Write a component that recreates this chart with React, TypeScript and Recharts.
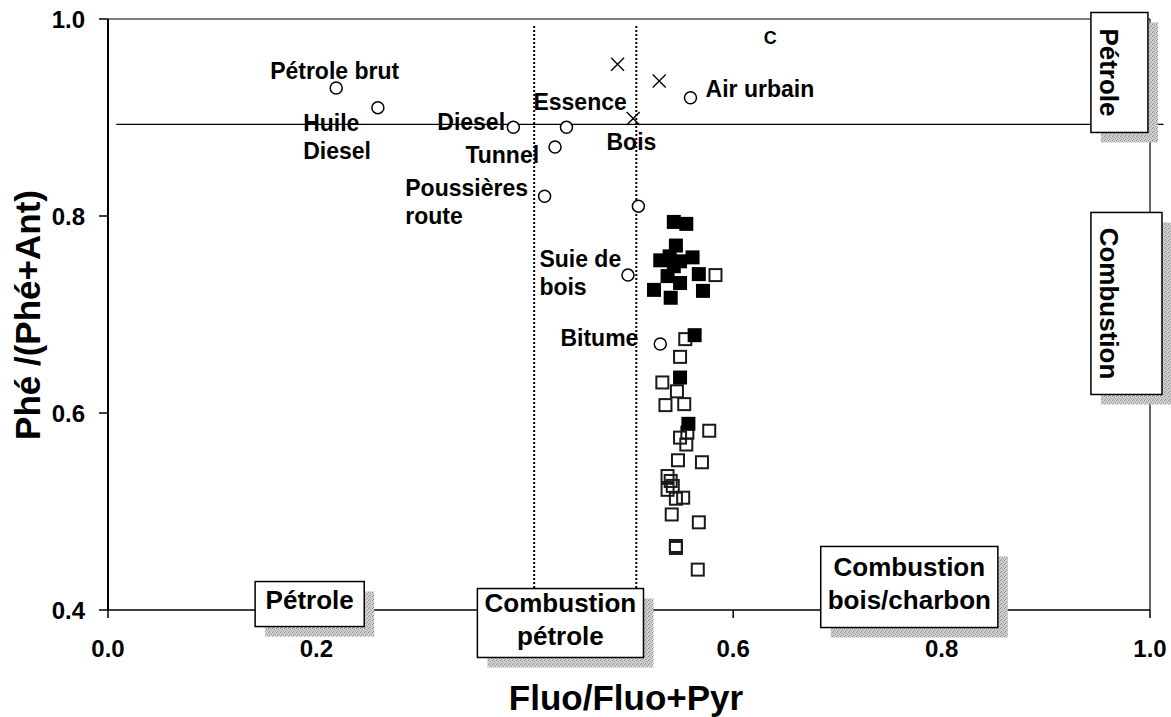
import React from "react";
import {
  ScatterChart,
  Scatter,
  XAxis,
  YAxis,
  ReferenceLine,
  ReferenceArea,
} from "recharts";

const FONT = "'Liberation Sans', Arial, Helvetica, sans-serif";

// axis ticks
const xTicks = [0, 0.2, 0.4, 0.6, 0.8, 1.0];
const yTicks = [0.4, 0.6, 0.8, 1.0];

// literature source profiles (open circles)
const sourceCircles = [
  { x: 0.219, y: 0.93 }, // Pétrole brut
  { x: 0.259, y: 0.91 }, // Huile Diesel
  { x: 0.389, y: 0.89 }, // Diesel
  { x: 0.44, y: 0.89 }, // Essence
  { x: 0.429, y: 0.87 }, // Tunnel
  { x: 0.419, y: 0.82 }, // Poussières route
  { x: 0.509, y: 0.81 },
  { x: 0.559, y: 0.92 }, // Air urbain
  { x: 0.499, y: 0.74 }, // Suie de bois
  { x: 0.53, y: 0.67 }, // Bitume
];

// wood combustion profiles (crosses)
const woodCrosses = [
  { x: 0.489, y: 0.954 },
  { x: 0.529, y: 0.937 },
  { x: 0.504, y: 0.899 },
];

// samples, filled squares
const filledSamples = [
  { x: 0.543, y: 0.794 },
  { x: 0.555, y: 0.792 },
  { x: 0.545, y: 0.77 },
  { x: 0.53, y: 0.755 },
  { x: 0.539, y: 0.759 },
  { x: 0.561, y: 0.758 },
  { x: 0.549, y: 0.754 },
  { x: 0.543, y: 0.749 },
  { x: 0.537, y: 0.739 },
  { x: 0.549, y: 0.732 },
  { x: 0.567, y: 0.741 },
  { x: 0.524, y: 0.725 },
  { x: 0.54, y: 0.717 },
  { x: 0.571, y: 0.724 },
  { x: 0.563, y: 0.679 },
  { x: 0.549, y: 0.636 },
  { x: 0.557, y: 0.589 },
];

// samples, open squares
const openSamples = [
  { x: 0.583, y: 0.74 },
  { x: 0.554, y: 0.675 },
  { x: 0.549, y: 0.657 },
  { x: 0.532, y: 0.631 },
  { x: 0.546, y: 0.622 },
  { x: 0.535, y: 0.608 },
  { x: 0.553, y: 0.609 },
  { x: 0.577, y: 0.582 },
  { x: 0.556, y: 0.58 },
  { x: 0.549, y: 0.575 },
  { x: 0.555, y: 0.568 },
  { x: 0.547, y: 0.552 },
  { x: 0.57, y: 0.55 },
  { x: 0.537, y: 0.536 },
  { x: 0.54, y: 0.531 },
  { x: 0.542, y: 0.526 },
  { x: 0.537, y: 0.522 },
  { x: 0.545, y: 0.513 },
  { x: 0.552, y: 0.514 },
  { x: 0.541, y: 0.497 },
  { x: 0.567, y: 0.489 },
  { x: 0.545, y: 0.465 },
  { x: 0.545, y: 0.463 },
  { x: 0.566, y: 0.441 },
];

// source names, anchored at the start of the text baseline
const sourceLabels = [
  { x: 0.1556, y: 0.9386, text: "Pétrole brut" },
  { x: 0.1873, y: 0.8858, text: "Huile" },
  { x: 0.1873, y: 0.8574, text: "Diesel" },
  { x: 0.316, y: 0.8878, text: "Diesel" },
  { x: 0.4083, y: 0.9081, text: "Essence" },
  { x: 0.343, y: 0.8543, text: "Tunnel" },
  { x: 0.2853, y: 0.8198, text: "Poussières" },
  { x: 0.2853, y: 0.7914, text: "route" },
  { x: 0.4784, y: 0.8675, text: "Bois" },
  { x: 0.5735, y: 0.9213, text: "Air urbain" },
  { x: 0.414, y: 0.7487, text: "Suie de" },
  { x: 0.414, y: 0.7203, text: "bois" },
  { x: 0.4342, y: 0.6685, text: "Bitume" },
];

const smallLabels = [{ x: 0.6292, y: 0.9751, text: "C" }];

// threshold lines
const yThreshold = 0.893;
const xThresholds = [0.409, 0.507];

// zone boxes
const zoneBoxes = [
  { x1: 0.1412, x2: 0.2459, y1: 0.3832, y2: 0.4289, lines: ["Pétrole"], vertical: false },
  { x1: 0.3545, x2: 0.5139, y1: 0.3518, y2: 0.4218, lines: ["Combustion", "pétrole"], vertical: false },
  { x1: 0.684, x2: 0.854, y1: 0.3822, y2: 0.4645, lines: ["Combustion", "bois/charbon"], vertical: false },
  { x1: 0.9433, x2: 0.998, y1: 0.8848, y2: 1.0066, lines: ["Pétrole"], vertical: true },
  { x1: 0.9433, x2: 1.0115, y1: 0.6188, y2: 0.8036, lines: ["Combustion"], vertical: true },
];

const W = 1171;
const H = 717;
const PLOT_MARGIN = { top: 19, right: 21, bottom: 107, left: 108 };

const OpenCircle = (p: any) => (
  <circle cx={p.cx} cy={p.cy} r={6} fill="#fff" stroke="#000" strokeWidth={1.5} />
);

const Cross = (p: any) => (
  <g stroke="#000" strokeWidth={1.4}>
    <line x1={p.cx - 6.5} y1={p.cy - 6.5} x2={p.cx + 6.5} y2={p.cy + 6.5} />
    <line x1={p.cx - 6.5} y1={p.cy + 6.5} x2={p.cx + 6.5} y2={p.cy - 6.5} />
  </g>
);

const FilledSquare = (p: any) => (
  <rect x={p.cx - 7} y={p.cy - 7} width={14} height={14} fill="#000" />
);

const OpenSquare = (p: any) => (
  <rect x={p.cx - 6} y={p.cy - 6} width={12} height={12} fill="none" stroke="#1a1a1a" strokeWidth={2} />
);

const LabelText = (p: any) => (
  <text x={p.cx} y={p.cy} fontSize={23} fontWeight="bold" fill="#000" fontFamily={FONT}>
    {p.payload.text}
  </text>
);

const SmallLabelText = (p: any) => (
  <text x={p.cx} y={p.cy} fontSize={18} fontWeight="bold" fill="#000" fontFamily={FONT}>
    {p.payload.text}
  </text>
);

// 0.4 on the x axis sits under the "Combustion pétrole" box
const xTickText = (v: number) => (v === 0.4 ? "" : v.toFixed(1));

function zoneShape(lines: string[], vertical: boolean, id: string) {
  return (p: any) => {
    const { x, y, width, height } = p;
    const lh = 33;
    return (
      <g>
        <defs>
          <pattern id={id} width={4} height={4} patternUnits="userSpaceOnUse">
            <rect width={4} height={4} fill="#cfcfcf" />
            <rect x={0} y={0} width={1} height={1} fill="#8c8c8c" />
            <rect x={2} y={1} width={1} height={1} fill="#9a9a9a" />
            <rect x={1} y={3} width={1} height={1} fill="#8c8c8c" />
            <rect x={3} y={2} width={1} height={1} fill="#a5a5a5" />
          </pattern>
        </defs>
        <rect x={x + 10} y={y + 10} width={width} height={height} fill={`url(#${id})`} />
        <rect x={x} y={y} width={width} height={height} fill="#fff" stroke="#000" strokeWidth={1.5} />
        {vertical ? (
          <text
            transform={`translate(${x + 9.5}, ${y + height / 2}) rotate(90)`}
            textAnchor="middle"
            fontSize={26}
            fontWeight="bold"
            fontFamily={FONT}
            fill="#000"
          >
            {lines[0]}
          </text>
        ) : (
          lines.map((t, i) => (
            <text
              key={t}
              x={x + width / 2}
              y={y + height / 2 + (i - (lines.length - 1) / 2) * lh + 5}
              textAnchor="middle"
              fontSize={26}
              fontWeight="bold"
              fontFamily={FONT}
              fill="#000"
            >
              {t}
            </text>
          ))
        )}
      </g>
    );
  };
}

export default function App() {
  return (
    <div style={{ position: "fixed", left: 0, top: 0, width: W, height: H, background: "#fff", fontFamily: FONT }}>
      <ScatterChart width={W} height={H} margin={{ top: 19, right: 21, bottom: 47, left: 48 }}>
        <XAxis
          type="number"
          dataKey="x"
          domain={[0, 1]}
          ticks={xTicks}
          tickFormatter={xTickText}
          tick={{ fontSize: 24, fontWeight: "bold", fill: "#000", fontFamily: FONT }}
          tickSize={8}
          tickMargin={22}
          height={60}
          axisLine={{ stroke: "#000", strokeWidth: 1.5 }}
          tickLine={{ stroke: "#000", strokeWidth: 1.5 }}
          allowDataOverflow
        />
        <YAxis
          type="number"
          dataKey="y"
          domain={[0.4, 1]}
          ticks={yTicks}
          tickFormatter={(v: number) => v.toFixed(1)}
          tick={{ fontSize: 24, fontWeight: "bold", fill: "#000", fontFamily: FONT }}
          tickSize={9}
          tickMargin={14}
          width={60}
          axisLine={{ stroke: "#000", strokeWidth: 2 }}
          tickLine={{ stroke: "#000", strokeWidth: 1.5 }}
          allowDataOverflow
        />

        <ReferenceLine y={1} stroke="#000" strokeWidth={1} />
        <ReferenceLine x={1} stroke="#000" strokeWidth={1.2} />
        <ReferenceLine
          segment={[{ x: 0.008, y: yThreshold }, { x: 1.013, y: yThreshold }]}
          stroke="#000"
          strokeWidth={1.2}
          ifOverflow="visible"
        />
        {xThresholds.map((v) => (
          <ReferenceLine
            key={v}
            segment={[{ x: v, y: 0.993 }, { x: v, y: 0.4 }]}
            stroke="#000"
            strokeWidth={2}
            strokeDasharray="2 2"
          />
        ))}

        <Scatter data={sourceCircles} shape={OpenCircle} isAnimationActive={false} />
        <Scatter data={woodCrosses} shape={Cross} isAnimationActive={false} />
        <Scatter data={openSamples} shape={OpenSquare} isAnimationActive={false} />
        <Scatter data={filledSamples} shape={FilledSquare} isAnimationActive={false} />
      </ScatterChart>

      {/* top layer: same plot area and scales, holds the names and the zone boxes */}
      <div style={{ position: "absolute", left: 0, top: 0 }}>
        <ScatterChart width={W} height={H} margin={PLOT_MARGIN}>
          <XAxis type="number" dataKey="x" domain={[0, 1]} hide allowDataOverflow />
          <YAxis type="number" dataKey="y" domain={[0.4, 1]} hide allowDataOverflow />
          <Scatter data={sourceLabels} shape={LabelText} isAnimationActive={false} />
          <Scatter data={smallLabels} shape={SmallLabelText} isAnimationActive={false} />
          {zoneBoxes.map((b, i) => (
            <ReferenceArea
              key={i}
              x1={b.x1}
              x2={b.x2}
              y1={b.y1}
              y2={b.y2}
              ifOverflow="visible"
              shape={zoneShape(b.lines, b.vertical, `stipple${i}`)}
            />
          ))}
        </ScatterChart>
      </div>

      <svg width={W} height={H} style={{ position: "absolute", left: 0, top: 0, pointerEvents: "none" }}>
        <text x={626} y={710} textAnchor="middle" fontSize={35} fontWeight="bold" fontFamily={FONT} fill="#000">
          Fluo/Fluo+Pyr
        </text>
        <text
          transform="translate(40, 315) rotate(-90)"
          textAnchor="middle"
          fontSize={35}
          fontWeight="bold"
          fontFamily={FONT}
          fill="#000"
        >
          Phé /(Phé+Ant)
        </text>
      </svg>
    </div>
  );
}
